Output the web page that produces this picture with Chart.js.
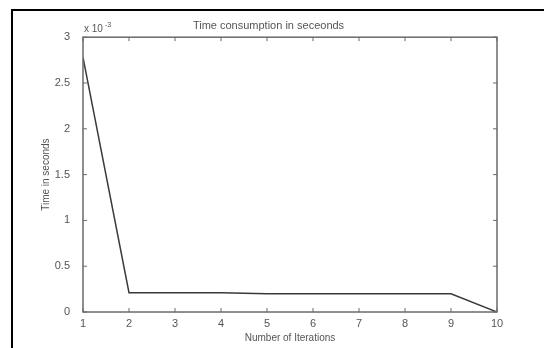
<!DOCTYPE html>
<html>
<head>
<meta charset="utf-8">
<script src="https://cdn.jsdelivr.net/npm/chart.js@4/dist/chart.umd.min.js"></script>
<style>
  html, body { margin:0; padding:0; background:#fff; overflow:hidden; }
  #wrap { position:relative; width:544px; height:348px; }
  #frame { position:absolute; left:11px; top:9px; width:620px; height:420px; border:2px solid #000; }
  canvas { position:absolute; left:0; top:0; }
</style>
</head>
<body>
<div id="wrap">
  <div id="frame"></div>
  <canvas id="c" width="544" height="348"></canvas>
</div>
<script>
'use strict';

// ── data ─────────────────────────────────────────
const iterations = [1, 2, 3, 4, 5, 6, 7, 8, 9, 10];
const timeSeconds = [0.00278, 0.00021, 0.00021, 0.00021, 0.00020, 0.00020, 0.00020, 0.00020, 0.00020, 0.0];
const yTicks = [0, 0.0005, 0.001, 0.0015, 0.002, 0.0025, 0.003];
const xTicks = [1, 2, 3, 4, 5, 6, 7, 8, 9, 10];

const TXT = '#555';
const AX = '#6a6a6a';
const FONT = 'Liberation Sans, Arial, sans-serif';

// ── MATLAB-like box with inward ticks + exponent label ──
const boxPlugin = {
  id: 'box',
  afterDatasetsDraw(chart) {
    const { ctx, chartArea: a, scales } = chart;
    ctx.save();
    ctx.strokeStyle = AX;
    ctx.lineWidth = 1.5;
    ctx.strokeRect(a.left, a.top, a.right - a.left, a.bottom - a.top);
    ctx.lineWidth = 1;
    const t = 4;
    xTicks.forEach(v => {
      const x = scales.x.getPixelForValue(v);
      ctx.beginPath();
      ctx.moveTo(x, a.bottom); ctx.lineTo(x, a.bottom - t);
      ctx.moveTo(x, a.top); ctx.lineTo(x, a.top + t);
      ctx.stroke();
    });
    yTicks.forEach(v => {
      const y = scales.y.getPixelForValue(v);
      ctx.beginPath();
      ctx.moveTo(a.left, y); ctx.lineTo(a.left + t, y);
      ctx.moveTo(a.right, y); ctx.lineTo(a.right - t, y);
      ctx.stroke();
    });
    // exponent
    ctx.fillStyle = TXT;
    ctx.textBaseline = 'alphabetic';
    ctx.font = '10px ' + FONT;
    ctx.fillText('x 10', a.left + 1, a.top - 5);
    ctx.font = '7px ' + FONT;
    ctx.fillText('-3', a.left + 22, a.top - 10);
    ctx.restore();
  }
};

new Chart(document.getElementById('c'), {
  type: 'line',
  data: {
    datasets: [{
      data: iterations.map((x, i) => ({ x, y: timeSeconds[i] })),
      borderColor: '#3a3a3a',
      borderWidth: 1.5,
      pointRadius: 0,
      tension: 0,
      fill: false
    }]
  },
  options: {
    responsive: false,
    animation: false,
    layout: { padding: { left: 40, top: 19, right: 47, bottom: 0 } },
    plugins: {
      legend: { display: false },
      tooltip: { enabled: false },
      title: {
        display: true,
        text: 'Time consumption in seceonds',
        color: TXT,
        font: { family: FONT, size: 11, weight: 'normal' },
        padding: { top: 0, bottom: 5 },
        position: 'top'
      }
    },
    scales: {
      x: {
        type: 'linear',
        min: 1, max: 10,
        afterBuildTicks: s => { s.ticks = xTicks.map(v => ({ value: v })); },
        grid: { display: false },
        border: { display: false },
        ticks: { color: TXT, font: { family: FONT, size: 11 }, padding: -3, maxRotation: 0, callback: v => String(v) },
        title: { display: true, text: 'Number of Iterations', color: TXT, font: { family: FONT, size: 10 }, padding: { top: 0, bottom: 4 } },
        afterFit: s => { s.height = 36; }
      },
      y: {
        min: 0, max: 0.003,
        afterBuildTicks: s => { s.ticks = yTicks.map(v => ({ value: v })); },
        grid: { display: false },
        border: { display: false },
        ticks: { color: TXT, font: { family: FONT, size: 11 }, padding: 5, callback: v => String(Math.round(v * 10000) / 10) },
        title: { display: true, text: 'Time in seconds', color: TXT, font: { family: FONT, size: 10 }, padding: { top: 0, bottom: 0 } },
        afterFit: s => { s.width = 43; }
      }
    }
  },
  plugins: [boxPlugin]
});
</script>
</body>
</html>
